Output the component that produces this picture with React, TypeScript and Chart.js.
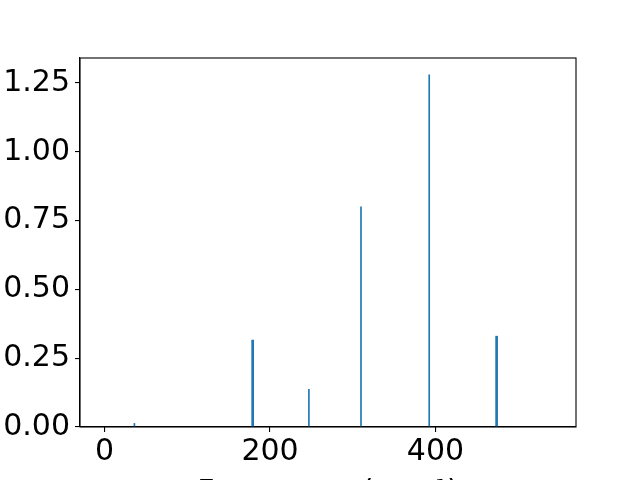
import React, { useEffect, useRef } from "react";
import { Chart, registerables } from "chart.js";

Chart.register(...registerables);

// Data
const frequencies = [36, 179, 247, 310, 392.5, 474];
const intensities = [0.013, 0.316, 0.137, 0.8, 1.28, 0.33];
const xTickValues = [0, 200, 400];
const yTickValues = [0, 0.25, 0.5, 0.75, 1.0, 1.25];
const xAxisTitle = "Frequency (cm\u207B\u00B9)";

// Styles
const BAR_COLOR = "#1f77b4";
const BAR_THICKNESS = [1, 2, 1, 1, 1, 2];
const FONT = "'DejaVu Sans', sans-serif";
const FONT_SIZE = 30;

const framePlugin = {
  id: "frame",
  afterDraw(chart: any) {
    const { ctx, chartArea } = chart;
    ctx.save();
    ctx.strokeStyle = "#000";
    ctx.lineWidth = 1.1;
    ctx.strokeRect(chartArea.left, chartArea.top, chartArea.right - chartArea.left, chartArea.bottom - chartArea.top);
    ctx.restore();
  },
};

export default function App() {
  const ref = useRef<HTMLCanvasElement>(null);
  useEffect(() => {
    if (!ref.current) return;
    const datasets = frequencies.map((f, i) => ({
      data: [{ x: f, y: intensities[i] }],
      backgroundColor: BAR_COLOR,
      borderWidth: 0,
      barThickness: BAR_THICKNESS[i],
      grouped: false,
    }));
    const chart = new Chart(ref.current, {
      type: "bar",
      data: { datasets: datasets as any },
      options: {
        animation: false,
        responsive: false,
        layout: { padding: { left: 0, top: 58, right: 64, bottom: 0 } },
        plugins: { legend: { display: false }, tooltip: { enabled: false } },
        scales: {
          x: {
            type: "linear",
            offset: false,
            min: -29.8,
            max: 570,
            afterFit: (s: any) => { s.height = 93; },
            afterBuildTicks: (s: any) => { s.ticks = xTickValues.map((v) => ({ value: v })); },
            ticks: {
              includeBounds: false,
              color: "#000",
              font: { family: FONT, size: FONT_SIZE },
              padding: 2,
              maxRotation: 0,
              callback: (v: any) => String(v),
            },
            grid: { offset: false, drawOnChartArea: false, drawTicks: true, tickLength: 5, color: "#000", lineWidth: 1.1 },
            border: { display: true, color: "#000", width: 1.1 },
            title: {
              display: true,
              text: xAxisTitle,
              color: "#000",
              font: { family: FONT, size: FONT_SIZE },
              padding: { top: 0, bottom: 9 },
            },
          },
          y: {
            type: "linear",
            min: 0,
            max: 1.341,
            afterFit: (s: any) => { s.width = 80; },
            afterBuildTicks: (s: any) => { s.ticks = yTickValues.map((v) => ({ value: v })); },
            ticks: {
              includeBounds: false,
              color: "#000",
              font: { family: FONT, size: FONT_SIZE },
              padding: 5,
              callback: (v: any) => Number(v).toFixed(2),
            },
            grid: { drawOnChartArea: false, drawTicks: true, tickLength: 5, color: "#000", lineWidth: 1.1 },
            border: { display: true, color: "#000", width: 1.1 },
          },
        },
      },
      plugins: [framePlugin],
    });
    return () => chart.destroy();
  }, []);
  return (
    <div style={{ position: "fixed", left: 0, top: 0, width: 640, height: 480, overflow: "hidden", background: "#fff" }}>
      <canvas ref={ref} width={640} height={520} style={{ width: 640, height: 520, display: "block" }} />
    </div>
  );
}
